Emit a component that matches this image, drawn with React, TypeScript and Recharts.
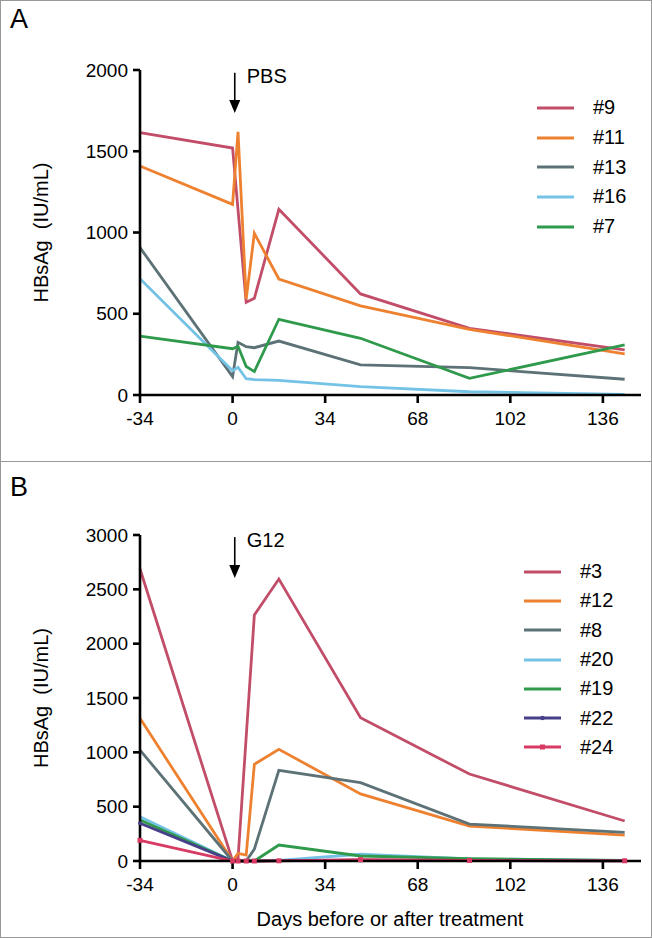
import React from 'react';
import { LineChart, Line, XAxis, YAxis, ReferenceLine, Legend } from 'recharts';

// sampling days shared by every animal
const days = [-34, 0, 2, 5, 8, 17, 47, 87, 144];
const xTicks = [-34, 0, 34, 68, 102, 136];

// panel A – PBS group (IU/mL)
const pbs9 = [1615, 1520, null, 570, 595, 1143, 622, 410, 277];
const pbs11 = [1409, 1173, 1620, 590, 995, 714, 548, 404, 253];
const pbs13 = [907, 113, 324, 297, 291, 332, 185, 168, 97];
const pbs16 = [716, 150, 170, 100, 95, 90, 51, 20, 4];
const pbs7 = [363, 285, 300, 175, 144, 466, 349, 103, 308];
const pbsTicks = [0, 500, 1000, 1500, 2000];

// panel B – G12 group (IU/mL)
const g3 = [2687, 0, 20, null, 2264, 2595, 1319, 800, 368];
const g12 = [1313, 0, 70, 55, 890, 1028, 617, 322, 239];
const g8 = [1021, 0, 0, 0, 110, 835, 721, 340, 264];
const g20 = [408, 0, 0, 0, 0, 5, 62, 20, 4];
const g19 = [377, 0, 0, 0, 0, 147, 46, 22, 5];
const g22 = [347, 0, 0, 0, 0, 3, 8, 5, 2];
const g24 = [190, 0, 0, 0, 0, 2, 12, 5, 2];
const g12Ticks = [0, 500, 1000, 1500, 2000, 2500, 3000];

const RED = '#c24d69';
const ORANGE = '#ee8130';
const GREY = '#5d7276';
const BLUE = '#74c3e6';
const GREEN = '#2f9a4c';
const PURPLE = '#473f8a';
const PINK = '#d83a63';

type Series = { key: string; label: string; values: (number | null)[]; color: string; marker?: 'dot' | 'square' };

const pbsSeries: Series[] = [
  { key: 's9', label: '#9', values: pbs9, color: RED },
  { key: 's11', label: '#11', values: pbs11, color: ORANGE },
  { key: 's13', label: '#13', values: pbs13, color: GREY },
  { key: 's16', label: '#16', values: pbs16, color: BLUE },
  { key: 's7', label: '#7', values: pbs7, color: GREEN },
];

const g12Series: Series[] = [
  { key: 's3', label: '#3', values: g3, color: RED },
  { key: 's12', label: '#12', values: g12, color: ORANGE },
  { key: 's8', label: '#8', values: g8, color: GREY },
  { key: 's20', label: '#20', values: g20, color: BLUE },
  { key: 's19', label: '#19', values: g19, color: GREEN },
  { key: 's22', label: '#22', values: g22, color: PURPLE, marker: 'dot' },
  { key: 's24', label: '#24', values: g24, color: PINK, marker: 'square' },
];

const buildRows = (series: Series[]) =>
  days.map((d, i) => {
    const row: any = { day: d };
    series.forEach((s) => { row[s.key] = s.values[i]; });
    return row;
  });

const FONT = '"Liberation Sans", Arial, sans-serif';

const arrowShape = (text: string) => (p: any) => (
  <g>
    <line x1={p.x1} y1={p.y1} x2={p.x2} y2={p.y2 - 10} stroke="#000" strokeWidth={1.6} />
    <polygon points={`${p.x2 - 5.5},${p.y2 - 13} ${p.x2 + 5.5},${p.y2 - 13} ${p.x2},${p.y2}`} fill="#000" />
    <text x={p.x1 + 12} y={p.y1 + 10} fontSize={20} fill="#000" fontFamily={FONT}>{text}</text>
  </g>
);

const squareDot = (color: string) => (props: any) => {
  if (props.cy == null || props.cx == null) return <g key={props.key ?? props.index} />;
  return <rect key={props.key ?? props.index} x={props.cx - 2.5} y={props.cy - 2.5} width={5} height={5} fill={color} />;
};

function LegendList({ series, rowH }: { series: Series[]; rowH: number }) {
  return (
    <div style={{ fontFamily: FONT }}>
      {series.map((s) => (
        <div key={s.key} style={{ height: rowH, display: 'flex', alignItems: 'center' }}>
          <svg width={37} height={10} style={{ marginRight: 19 }}>
            <line x1={0} y1={5} x2={37} y2={5} stroke={s.color} strokeWidth={3} />
            {s.marker === 'dot' && <circle cx={18.5} cy={5} r={2.2} fill={s.color} />}
            {s.marker === 'square' && <rect x={16} y={2.5} width={5} height={5} fill={s.color} />}
          </svg>
          <span style={{ fontSize: 20, color: '#000' }}>{s.label}</span>
        </div>
      ))}
    </div>
  );
}

type PanelProps = {
  top: number;
  height: number;
  letter: string;
  series: Series[];
  yMax: number;
  yTicks: number[];
  plotTop: number;
  plotHeight: number;
  arrowText: string;
  arrowY: [number, number];
  legendTop: number;
  legendLeft: number;
  legendRow: number;
  xTitle?: string;
};

function Panel(p: PanelProps) {
  const rows = buildRows(p.series);
  const xAxisH = p.height - p.plotTop - p.plotHeight;
  return (
    <div
      style={{
        position: 'absolute', left: 0, top: p.top, width: 652, height: p.height,
        boxSizing: 'border-box', border: '1px solid #999',
      }}
    >
      <div style={{ position: 'absolute', left: 9, top: p.letter === 'A' ? 3 : 10, fontSize: 27, fontFamily: FONT }}>{p.letter}</div>
      <div style={{ position: 'absolute', left: -1, top: -1 }}>
        <LineChart width={652} height={p.height} data={rows} margin={{ top: p.plotTop, right: 11, bottom: 0, left: 0 }}>
          <XAxis
            dataKey="day"
            type="number"
            domain={[-34, 150]}
            ticks={xTicks}
            height={xAxisH}
            axisLine={{ stroke: '#000', strokeWidth: 2.6 }}
            tickLine={{ stroke: '#000', strokeWidth: 2.6 }}
            tickSize={8}
            tickMargin={9}
            tick={{ fill: '#000', fontSize: 19, fontFamily: FONT }}
            label={p.xTitle ? {
              content: (lp: any) => (
                <text x={390} y={lp.viewBox.y + 65} textAnchor="middle" fontSize={20} fontFamily={FONT} fill="#000">{p.xTitle}</text>
              ),
            } : undefined}
          />
          <YAxis
            type="number"
            width={140}
            domain={[0, p.yMax]}
            ticks={p.yTicks}
            interval={0}
            axisLine={{ stroke: '#000', strokeWidth: 2.6 }}
            tickLine={{ stroke: '#000', strokeWidth: 2.6 }}
            tickSize={7}
            tickMargin={5}
            tick={{ fill: '#000', fontSize: 19, fontFamily: FONT }}
            label={{
              content: (lp: any) => {
                const cx = 41;
                const cy = lp.viewBox.y + lp.viewBox.height / 2;
                return (
                  <text x={cx} y={cy} transform={`rotate(-90 ${cx} ${cy})`} textAnchor="middle" dominantBaseline="central"
                    fontSize={20} fontFamily={FONT} fill="#000" style={{ whiteSpace: 'pre' }}>
                    {'HBsAg  (IU/mL)'}
                  </text>
                );
              },
            }}
          />
          <ReferenceLine
            segment={[{ x: 0.8, y: p.arrowY[0] }, { x: 0.8, y: p.arrowY[1] }]}
            shape={arrowShape(p.arrowText)}
          />
          <Legend
            layout="vertical"
            align="center"
            verticalAlign="middle"
            wrapperStyle={{ top: p.legendTop, left: p.legendLeft, width: 110 }}
            content={() => <LegendList series={p.series} rowH={p.legendRow} />}
          />
          {p.series.map((s) => (
            <Line
              key={s.key}
              dataKey={s.key}
              name={s.label}
              type="linear"
              stroke={s.color}
              strokeWidth={2.8}
              connectNulls
              isAnimationActive={false}
              dot={s.marker === 'dot' ? { r: 2, fill: s.color, stroke: s.color, strokeWidth: 0 }
                : s.marker === 'square' ? squareDot(s.color) : false}
              activeDot={false}
            />
          ))}
        </LineChart>
      </div>
    </div>
  );
}

export default function App() {
  return (
    <div style={{ position: 'absolute', left: 0, top: 0, width: 652, height: 938, background: '#fff', fontFamily: FONT }}>
      <Panel
        top={0}
        height={462}
        letter="A"
        series={pbsSeries}
        yMax={2000}
        yTicks={pbsTicks}
        plotTop={70}
        plotHeight={325}
        arrowText="PBS"
        arrowY={[1983, 1735]}
        legendTop={93}
        legendLeft={537}
        legendRow={29.7}
      />
      <Panel
        top={461}
        height={477}
        letter="B"
        series={g12Series}
        yMax={3000}
        yTicks={g12Ticks}
        plotTop={74}
        plotHeight={326}
        arrowText="G12"
        arrowY={[2981, 2604]}
        legendTop={96}
        legendLeft={524}
        legendRow={29.3}
        xTitle="Days before or after treatment"
      />
    </div>
  );
}
